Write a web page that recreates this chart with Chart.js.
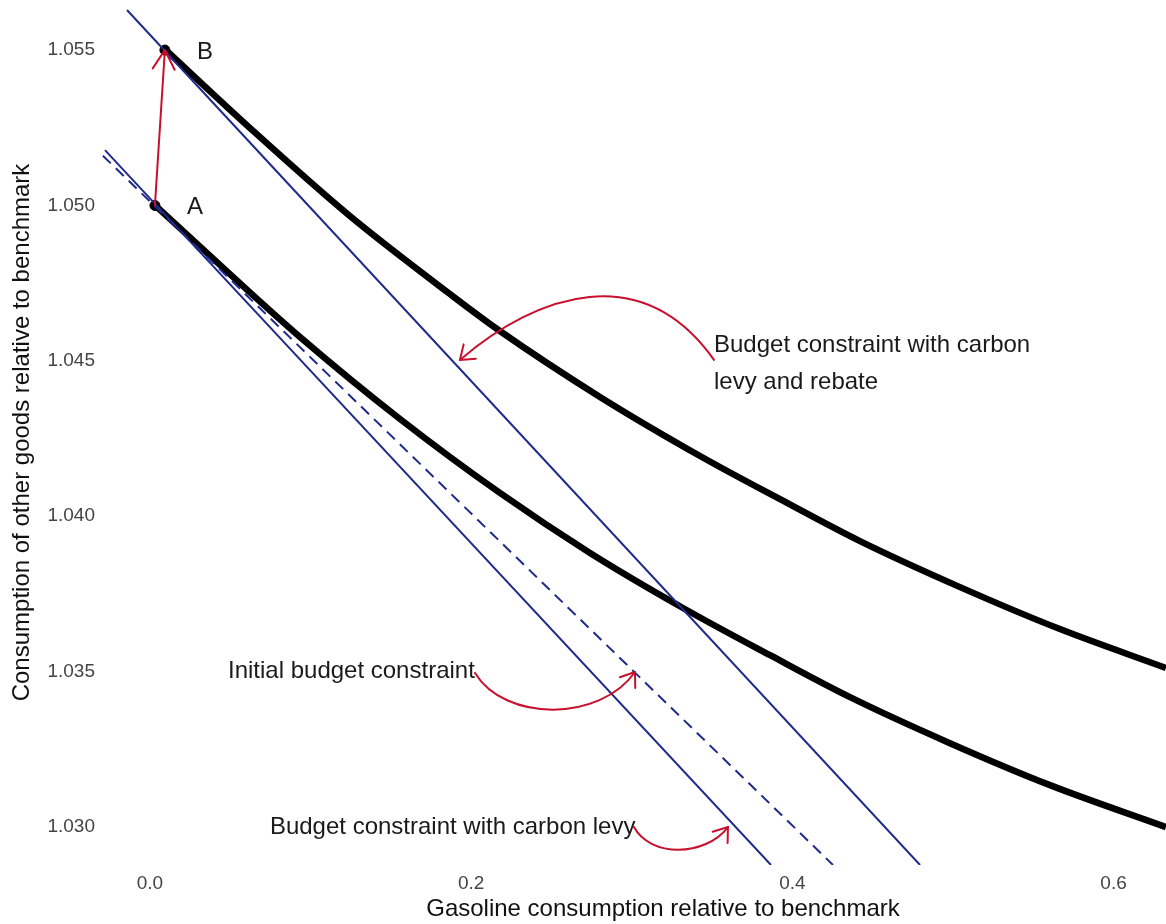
<!DOCTYPE html>
<html>
<head>
<meta charset="utf-8">
<title>Carbon levy and rebate</title>
<script src="https://cdn.jsdelivr.net/npm/chart.js@4.4.1/dist/chart.umd.min.js"></script>
<style>
  html, body { margin: 0; padding: 0; background: #fff; overflow: hidden; }
  #clip { width: 1166px; height: 924px; overflow: hidden; }
  #wrap { position: relative; width: 1226px; height: 924px; }
</style>
</head>
<body>
<div id="clip"><div id="wrap"><canvas id="budgetChart"></canvas></div></div>
<script>
// Indifference curves through A (lower) and B (upper)
const lowerCurveX = [0.0031, 0.0498, 0.0934, 0.1557, 0.2179, 0.274, 0.3319, 0.3861, 0.4359, 0.4981, 0.5604, 0.6326];
const lowerCurveY = [1.05001, 1.04779, 1.04577, 1.04313, 1.04075, 1.03882, 1.03705, 1.03553, 1.03418, 1.0327, 1.03135, 1.03];
const upperCurveX = [0.0093, 0.0623, 0.1245, 0.1868, 0.2179, 0.2802, 0.3425, 0.3923, 0.4421, 0.5044, 0.5666, 0.6326];
const upperCurveY = [1.05503, 1.05249, 1.04966, 1.04715, 1.04596, 1.04384, 1.04194, 1.04055, 1.0392, 1.03772, 1.03637, 1.03512];

// Budget lines, start and end points
const initialBudgetX = [-0.0293, 0.4253];
const initialBudgetY = [1.0516, 1.02878];
const levyBudgetX = [-0.028, 0.3867];
const levyBudgetY = [1.05178, 1.02878];
const rebateBudgetX = [-0.0143, 0.4795];
const rebateBudgetY = [1.05629, 1.02878];

// Optimal bundles
const pointLabels = ["A", "B"];
const pointX = [0.0031, 0.0093];
const pointY = [1.05, 1.055];

const xTicks = [0, 0.2, 0.4, 0.6];
const yTicks = [1.03, 1.035, 1.04, 1.045, 1.05, 1.055];

const FONT = "'Liberation Sans', Arial, sans-serif";
const RED = "#c8102e";
const NAVY = "#1f2a8a";

// text notes and their curved arrows (data coordinates)
const notes = [
  { lines: ["Budget constraint with carbon", "levy and rebate"], x: 0.3512, y: 1.04551, gap: 0.00119 },
  { lines: ["Initial budget constraint"], x: 0.0486, y: 1.035, gap: 0 },
  { lines: ["Budget constraint with carbon levy"], x: 0.0747, y: 1.03, gap: 0 },
];
const noteArrows = [
  [[0.3512, 1.04503], [0.3067, 1.04827], [0.2418, 1.04719], [0.193, 1.04503]],
  [[0.2024, 1.03496], [0.221, 1.03338], [0.2802, 1.03338], [0.302, 1.03499]],
  [[0.3014, 1.03], [0.3113, 1.02903], [0.3456, 1.02903], [0.3599, 1.03]],
];

function xy(xs, ys) {
  return xs.map((x, i) => ({ x: x, y: ys[i] }));
}

function arrowHead(ctx, tipX, tipY, fromX, fromY, len, spread) {
  const ang = Math.atan2(tipY - fromY, tipX - fromX);
  ctx.beginPath();
  ctx.moveTo(tipX - len * Math.cos(ang - spread), tipY - len * Math.sin(ang - spread));
  ctx.lineTo(tipX, tipY);
  ctx.lineTo(tipX - len * Math.cos(ang + spread), tipY - len * Math.sin(ang + spread));
  ctx.stroke();
}

const annotatePlugin = {
  id: "annotate",
  afterDatasetsDraw(chart) {
    const { ctx } = chart;
    const sx = chart.scales.x;
    const sy = chart.scales.y;
    const px = (v) => sx.getPixelForValue(v);
    const py = (v) => sy.getPixelForValue(v);

    ctx.save();
    ctx.strokeStyle = RED;
    ctx.lineWidth = 2;
    ctx.lineCap = "round";
    ctx.lineJoin = "round";

    // A -> B shift
    const ax = px(pointX[0]), ay = py(pointY[0]);
    const bx = px(pointX[1]), by = py(pointY[1]);
    ctx.beginPath();
    ctx.moveTo(ax, ay);
    ctx.lineTo(bx, by);
    ctx.stroke();
    arrowHead(ctx, bx, by, ax, ay, 22, Math.PI / 6);

    noteArrows.forEach((pts) => {
      const p = pts.map((d) => [px(d[0]), py(d[1])]);
      ctx.beginPath();
      ctx.moveTo(p[0][0], p[0][1]);
      ctx.bezierCurveTo(p[1][0], p[1][1], p[2][0], p[2][1], p[3][0], p[3][1]);
      ctx.stroke();
      arrowHead(ctx, p[3][0], p[3][1], p[2][0], p[2][1], 16, Math.PI / 5);
    });

    ctx.fillStyle = "#1a1a1a";
    ctx.font = "24px " + FONT;
    ctx.textBaseline = "middle";
    ctx.textAlign = "left";
    notes.forEach((n) => {
      n.lines.forEach((line, i) => {
        ctx.fillText(line, px(n.x), py(n.y - i * n.gap));
      });
    });

    pointLabels.forEach((label, i) => {
      ctx.fillText(label, px(pointX[i]) + 32, py(pointY[i]) + 2);
    });
    ctx.restore();
  },
};

const lineBase = { showLine: true, pointRadius: 0, borderWidth: 2, borderColor: NAVY };

new Chart(document.getElementById("budgetChart"), {
  type: "scatter",
  data: {
    datasets: [
      { ...lineBase, label: "Initial budget constraint", data: xy(initialBudgetX, initialBudgetY), borderDash: [11, 7] },
      { ...lineBase, label: "Budget constraint with carbon levy", data: xy(levyBudgetX, levyBudgetY) },
      { ...lineBase, label: "Budget constraint with carbon levy and rebate", data: xy(rebateBudgetX, rebateBudgetY) },
      {
        label: "Indifference A",
        data: xy(lowerCurveX, lowerCurveY),
        showLine: true,
        pointRadius: 0,
        borderColor: "#000",
        borderWidth: 6.5,
        cubicInterpolationMode: "monotone",
      },
      {
        label: "Indifference B",
        data: xy(upperCurveX, upperCurveY),
        showLine: true,
        pointRadius: 0,
        borderColor: "#000",
        borderWidth: 6.5,
        cubicInterpolationMode: "monotone",
      },
      {
        label: "Bundles",
        data: xy(pointX, pointY),
        pointRadius: 5,
        pointBackgroundColor: "#000",
        pointBorderColor: "#000",
      },
    ],
  },
  options: {
    responsive: true,
    maintainAspectRatio: false,
    animation: false,
    layout: { padding: 0, autoPadding: false },
    plugins: {
      legend: { display: false },
      tooltip: { enabled: false },
    },
    scales: {
      x: {
        type: "linear",
        min: -0.0311,
        max: 0.67,
        grid: { display: false, drawTicks: false },
        border: { display: false },
        afterBuildTicks: (axis) => {
          axis.ticks = xTicks.map((v) => ({ value: v }));
        },
        afterFit: (axis) => {
          axis.height = 59;
          axis.paddingLeft = 0;
          axis.paddingRight = 0;
        },
        ticks: {
          padding: 7,
          color: "#444",
          font: { family: FONT, size: 19 },
          callback: (v) => Number(v).toFixed(1),
        },
        title: {
          display: true,
          text: "Gasoline consumption relative to benchmark",
          color: "#111",
          font: { family: FONT, size: 24 },
          padding: { top: 0, bottom: 0 },
        },
      },
      y: {
        type: "linear",
        min: 1.02878,
        max: 1.05661,
        grid: { display: false, drawTicks: false },
        border: { display: false },
        afterBuildTicks: (axis) => {
          axis.ticks = yTicks.map((v) => ({ value: v }));
        },
        afterFit: (axis) => {
          axis.width = 100;
          axis.paddingTop = 0;
          axis.paddingBottom = 0;
        },
        ticks: {
          padding: 5,
          color: "#444",
          font: { family: FONT, size: 19 },
          callback: (v) => Number(v).toFixed(3),
        },
        title: {
          display: true,
          text: "Consumption of other goods relative to benchmark",
          color: "#111",
          font: { family: FONT, size: 24 },
          padding: { top: 8, bottom: 0 },
        },
      },
    },
  },
  plugins: [annotatePlugin],
});
</script>
</body>
</html>
